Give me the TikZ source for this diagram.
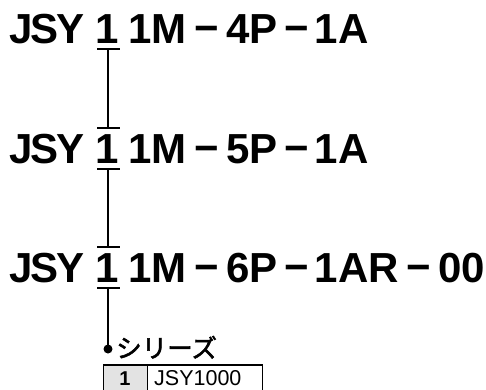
\documentclass[tikz,border=0pt]{standalone}
\usepackage{fontspec}
\setmainfont{Liberation Sans}
\newfontfamily\cjk[FakeBold=2]{Noto Sans CJK JP}
\begin{document}
\begin{tikzpicture}[x=1pt,y=-1pt,
  seg/.style={anchor=base west, inner sep=0pt, font=\fontsize{42}{42}\selectfont\bfseries},
  dsh/.style={anchor=base, inner sep=0pt, font=\fontsize{42}{42}\selectfont\bfseries},
  conn/.style={line width=1.3pt},
  cellbox/.style={draw, line width=0.9pt, inner sep=0pt, anchor=north west, minimum height=30pt},
  celltext/.style={inner sep=0pt}]
\useasboundingbox (0,0) rectangle (486,389);
\foreach \b/\n/\p/\t in {43/a/4P/1A, 163/b/5P/1A, 282/c/6P/1AR}{
  \node[seg] (j\n) at (9,\b) {J\kern-2pt S\kern-2pt Y};
  \node[seg] (k\n) at (95.6,\b) {1};
  \node[seg] (m\n) at (128,\b) {1M};
  \node[dsh] (da\n) at (207,\b-1) {−};
  \node[seg] (p\n) at (226,\b) {\p};
  \node[dsh] (db\n) at (297,\b-1) {−};
  \node[seg] (t\n) at (314.6,\b) {\t};
  \coordinate (bt\n) at (108,\b+6);
  \coordinate (tp\n) at (108,\b-35);
  \draw[conn] (97,\b+6) -- (120,\b+6);
}
\node[dsh] (dcc) at (419,281) {−};
\node[seg] (zz) at (438.3,282) {00};
\draw[conn] (97,128) -- (120,128);
\draw[conn] (97,247) -- (120,247);
\node[circle, fill, inner sep=0pt, minimum size=9pt] (dot) at (108,349) {};
\draw[conn] (bta) -- (tpb);
\draw[conn] (btb) -- (tpc);
\draw[conn] (btc) -- (dot.center);
\node[anchor=base west, inner sep=0pt, font=\cjk\fontsize{25.5}{26}\selectfont] (ser) at (116,357.5) {シリーズ};
\node[cellbox, fill=black!11, minimum width=44pt] (c1) at (103,365) {};
\node[cellbox, minimum width=115pt] (c2) at (147,365) {};
\node[celltext, font=\fontsize{20}{20}\selectfont\bfseries] (c1t) at (125,378.5) {1};
\node[celltext, anchor=west, font=\fontsize{21.5}{22}\selectfont] (c2t) at (154,378.5) {JSY1000};
\draw[line width=1.8pt] (c1.north west) -- (c2.north east);
\end{tikzpicture}
\end{document}
